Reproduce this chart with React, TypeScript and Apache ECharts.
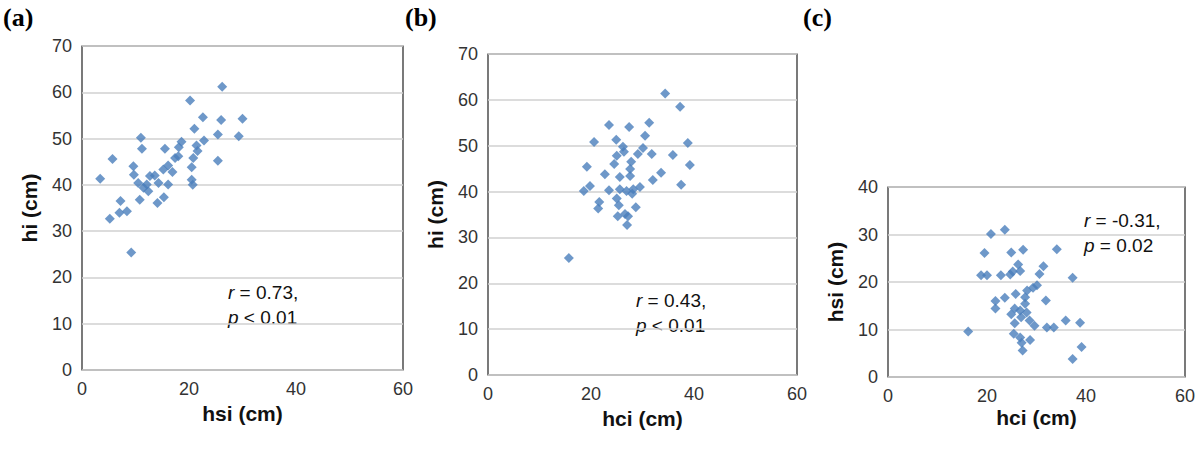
import { useEffect, useRef } from "react";
import * as echarts from "echarts";

// panel (a): hsi vs hi
const hsiA = [3.4, 5.7, 5.2, 7, 7.2, 8.4, 9.2, 11, 11.2, 9.6, 9.7, 10.5, 11.5, 12.4, 10.8, 12.7, 13.6, 14.3, 12.1, 14.1, 15.3, 16.1, 15.5, 15.2, 16.1, 16.9, 17.4, 18, 18.1, 18.6, 20.2, 21, 22.6, 22.8, 21.4, 21.6, 20.8, 20.5, 20.5, 20.7, 26.2, 26, 25.4, 25.4, 30, 29.3];
const hiA = [41.3, 45.6, 32.7, 34, 36.5, 34.3, 25.4, 50.2, 47.8, 44, 42.2, 40.4, 39.4, 38.6, 36.8, 41.9, 42, 40.4, 40.1, 36.1, 37.3, 40.1, 47.8, 43.3, 44.2, 42.8, 45.8, 46.2, 48.1, 49.3, 58.2, 52.1, 54.6, 49.6, 48.5, 47.3, 45.8, 43.8, 41.1, 40, 61.2, 54, 50.9, 45.2, 54.3, 50.5];

// panel (b): hci vs hi
const hciB = [15.7, 34.4, 37.3, 23.5, 27.4, 31.3, 30.5, 20.6, 24.9, 26.2, 26.4, 30.1, 29.1, 31.8, 38.8, 35.9, 39.2, 37.5, 33.6, 32, 25, 24.5, 27.8, 27.6, 19.2, 22.7, 25.6, 27.6, 19.8, 18.6, 23.5, 25.6, 26.9, 28.2, 29.5, 28, 25, 21.6, 21.4, 25.4, 28.7, 25.2, 26.6, 27.2, 27];
const hiB = [25.5, 61.4, 58.5, 54.5, 54.1, 55, 52.2, 50.8, 51.3, 49.8, 48.7, 49.5, 48.2, 48.2, 50.6, 48, 45.8, 41.5, 44.1, 42.5, 47.8, 46, 46.5, 44.9, 45.4, 43.8, 43.2, 43.4, 41.2, 40.1, 40.3, 40.5, 40.1, 40.5, 41, 39.5, 38.5, 37.7, 36.3, 37, 36.6, 34.6, 35.1, 34.6, 32.7];

// panel (c): hci vs hsi
const hciC = [16.2, 20.8, 23.6, 19.5, 24.9, 27.3, 34.1, 18.8, 20, 22.8, 24.7, 25.2, 26.3, 26.7, 31.4, 30.6, 37.3, 30.1, 29.3, 28.1, 25.8, 27.7, 23.6, 21.7, 31.9, 21.7, 27.7, 25.6, 26.7, 28, 24.9, 26.9, 28.6, 25.6, 29.6, 32.1, 33.5, 35.9, 38.8, 25.4, 26.7, 28.7, 27, 27.2, 39.1, 37.3];
const hsiC = [9.6, 30.1, 31, 26.1, 26.2, 26.8, 26.9, 21.4, 21.4, 21.4, 21.6, 22.2, 23.7, 22.3, 23.3, 21.7, 20.9, 19.3, 18.8, 18.2, 17.5, 16.8, 16.7, 16, 16.1, 14.4, 15.4, 14.4, 14, 13.6, 13.2, 12.6, 11.9, 11.3, 10.8, 10.4, 10.4, 11.9, 11.4, 9.1, 8.3, 7.8, 7.2, 5.6, 6.3, 3.8];

const panelLabels = ["(a)", "(b)", "(c)"];
const xNames = ["hsi (cm)", "hci (cm)", "hci (cm)"];
const yNames = ["hi (cm)", "hi (cm)", "hsi (cm)"];
const yMax = [70, 70, 40];
const stats = [["0.73,", "< 0.01"], ["0.43,", "< 0.01"], ["-0.31,", "= 0.02"]];

const FONT = "Liberation Sans, Arial, sans-serif";
const MARK = "#4a7ebb";

export default function App() {
  const ref = useRef<HTMLDivElement>(null);

  useEffect(() => {
    if (!ref.current) return;
    document.body.style.margin = "0";
    const chart = echarts.init(ref.current, null, { renderer: "svg" });

    const grids = [
      { left: 82, top: 46, width: 321, height: 324 },
      { left: 488, top: 54, width: 309, height: 321 },
      { left: 888, top: 187, width: 297, height: 190 },
    ];
    const pairs = [
      [hsiA, hiA],
      [hciB, hiB],
      [hciC, hsiC],
    ];
    const statPos = [
      [228, 280],
      [636, 288],
      [1084, 208],
    ];

    chart.setOption({
      animation: false,
      textStyle: { fontFamily: FONT },
      grid: grids.map((g) => ({ ...g, show: true, borderColor: "#222", borderWidth: 1.2, backgroundColor: "#fff" })),
      xAxis: grids.map((_, i) => ({
        gridIndex: i,
        type: "value",
        min: 0,
        max: 60,
        interval: 20,
        name: xNames[i],
        nameLocation: "middle",
        nameGap: 30,
        nameTextStyle: { fontSize: 21, fontWeight: "bold", color: "#111", fontFamily: FONT },
        axisLine: { show: false },
        axisTick: { show: false },
        splitLine: { show: false },
        axisLabel: { fontSize: 18, color: "#333", margin: 10 },
      })),
      yAxis: grids.map((_, i) => ({
        gridIndex: i,
        type: "value",
        min: 0,
        max: yMax[i],
        interval: 10,
        name: yNames[i],
        nameLocation: "middle",
        nameGap: 42,
        nameTextStyle: { fontSize: 21, fontWeight: "bold", color: "#111", fontFamily: FONT },
        axisLine: { show: false },
        axisTick: { show: false },
        splitLine: { lineStyle: { color: "#d0d0d0", width: 1.5 } },
        axisLabel: { fontSize: 18, color: "#333", margin: 10 },
      })),
      series: pairs.map(([xs, ys], i) => ({
        type: "scatter",
        xAxisIndex: i,
        yAxisIndex: i,
        symbol: "diamond",
        symbolSize: 10,
        itemStyle: { color: MARK },
        data: xs.map((x, j) => [x, ys[j]]),
      })),
      graphic: [
        ...panelLabels.map((t, i) => ({
          type: "text",
          left: [3, 405, 803][i],
          top: 4,
          style: { text: t, fontSize: 26, fontWeight: "bold", fontFamily: "Liberation Serif, serif", fill: "#000" },
        })),
        ...stats.map((s, i) => ({
          type: "text",
          x: statPos[i][0],
          y: statPos[i][1],
          style: {
            text: `{i|r} = ${s[0]}\n{i|p} ${s[1]}`,
            fontSize: 19,
            lineHeight: 25,
            fill: "#111",
            fontFamily: FONT,
            rich: { i: { fontStyle: "italic", fontSize: 19, fontFamily: FONT } },
          },
        })),
      ],
    });

    return () => chart.dispose();
  }, []);

  return <div ref={ref} style={{ width: 1200, height: 452 }} />;
}
